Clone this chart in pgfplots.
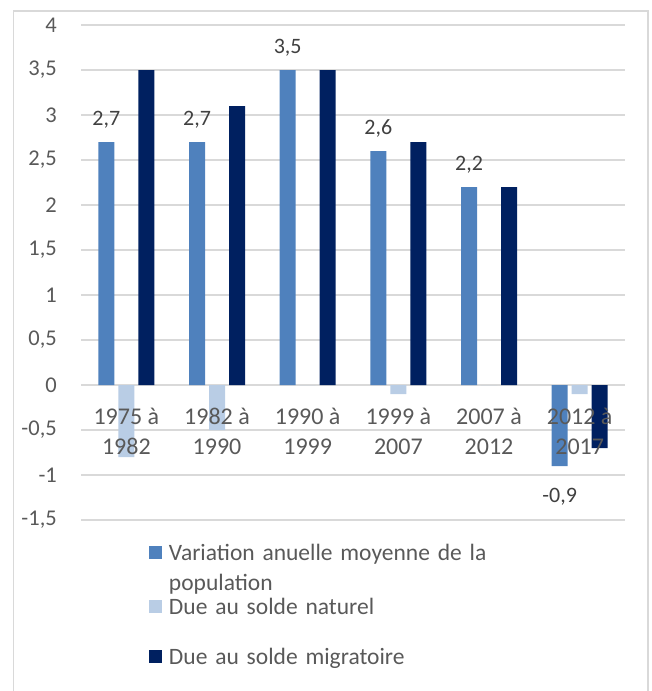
\documentclass[border=0pt]{standalone}
\usepackage{pgfplots}
\pgfplotsset{compat=1.18}
\usepackage{fontspec}
\setmainfont{Carlito}
\definecolor{cA}{HTML}{4F81BD}
\definecolor{cB}{HTML}{B9CDE5}
\definecolor{cC}{HTML}{002060}
\definecolor{txt}{HTML}{595959}
\definecolor{lbl}{HTML}{404040}
\definecolor{grd}{HTML}{D9D9D9}
\pgfplotsset{
  sqlegend/.style={legend image code/.code={\path[draw=none,fill=none] (0pt,-#1) -- (0pt,19pt); \fill[##1] (0pt,1pt) rectangle (13pt,14pt);}},
  base/.style={
    at={(81pt,-520pt)}, anchor=south west,
    scale only axis, width=544pt, height=495pt,
    xmin=-0.5, xmax=5.5, ymin=-1.5, ymax=4,
    enlargelimits=false,
    axis line style={draw=none},
    major tick length=0pt, tick style={draw=none},
    /pgf/number format/use comma,
    /pgf/number format/assume math mode=true,
  },
}
\begin{document}
\begin{tikzpicture}
\draw[grd, line width=1.2pt] (13.5pt,-11pt) rectangle (648pt,-720pt);
\begin{axis}[
  base,
  ybar=4pt, bar width=16pt,
  ytick={-1.5,-1,-0.5,0,0.5,1,1.5,2,2.5,3,3.5,4},
  xtick=\empty,
  ymajorgrids, grid style={grd, line width=1.2pt},
  yticklabel style={font=\fontsize{22.5}{26}\selectfont, text=txt, anchor=east, inner sep=0pt, xshift=-24pt},
  legend cell align=left,
  legend style={at={(0.125,-0.0434)}, anchor=north west, draw=none, fill=none,
    inner sep=0pt, outer sep=0pt, row sep=0pt, column sep=7pt,
    font=\fontsize{23.5}{30}\selectfont,
    nodes={inner sep=0pt, anchor=base west, align=left, text width=340pt, text=txt}},
]
\addplot[fill=cA, draw=none, nodes near coords, sqlegend=35pt,
  visualization depends on={rawy \as \rawy},
  every node near coord/.append style={font=\fontsize{22}{26}\selectfont, text=lbl, inner sep=0pt, yshift={\rawy<0 ? -22 : 13.5}}]
  coordinates {(0,2.7) (1,2.7) (2,3.5) (3,2.6) (4,2.2) (5,-0.9)};
\addlegendentry{Variation anuelle moyenne de la\\population}
\addplot[fill=cB, draw=none, sqlegend=31pt]
  coordinates {(0,-0.8) (1,-0.5) (2,0) (3,-0.1) (4,0) (5,-0.1)};
\addlegendentry{Due au solde naturel}
\addplot[fill=cC, draw=none, sqlegend=5pt]
  coordinates {(0,3.5) (1,3.1) (2,3.5) (3,2.7) (4,2.2) (5,-0.7)};
\addlegendentry{Due au solde migratoire}
\end{axis}
\begin{axis}[
  base,
  ytick=\empty,
  xtick={0,1,2,3,4,5},
  xticklabels={{1975 à\\1982},{1982 à\\1990},{1990 à\\1999},{1999 à\\2007},{2007 à\\2012},{2012 à\\2017}},
  xticklabel style={font=\fontsize{24}{30}\selectfont, text=txt, anchor=north, inner sep=0pt, yshift=112pt, align=center},
]
\end{axis}
\pgfresetboundingbox
\path[use as bounding box] (0,0) rectangle (652pt,-691pt);
\end{tikzpicture}
\end{document}
